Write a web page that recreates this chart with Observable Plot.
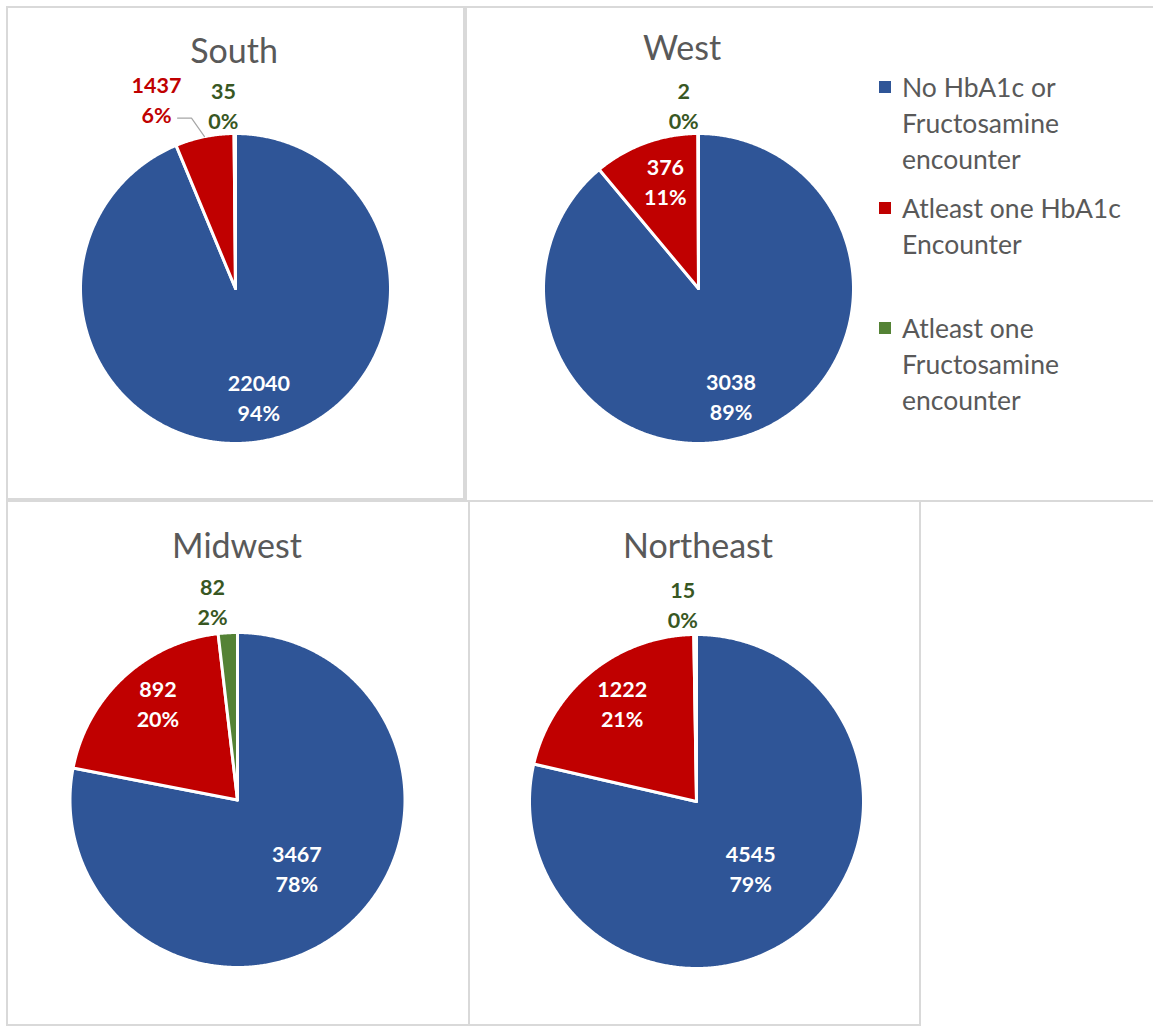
<!DOCTYPE html>
<html><head><meta charset="utf-8">
<script src="https://cdn.jsdelivr.net/npm/d3@7"></script>
<script src="https://cdn.jsdelivr.net/npm/@observablehq/plot@0.6"></script>
<style>
html,body{margin:0;padding:0;background:#fff;}
#page{position:relative;width:1153px;height:1027px;overflow:hidden;font-family:Lato,"Open Sans",sans-serif;}
.panel{position:absolute;border:2px solid #d9d9d9;box-sizing:border-box;}
.pie{position:absolute;}
.title{position:absolute;font-size:34px;line-height:34px;color:#595959;transform:translateX(-50%);white-space:nowrap;}
.legend{position:absolute;left:879px;top:69px;font-size:26.5px;line-height:36px;color:#595959;}
.legend .item{position:absolute;left:0;white-space:nowrap;}
.legend .sw{position:absolute;left:0;width:12px;height:12px;}
.legend .txt{position:absolute;left:23px;}
</style></head>
<body><div id="page"></div>
<script>
// ---- data ----
const regions = ["South", "West", "Midwest", "Northeast"];
const categories = ["No HbA1c or Fructosamine encounter", "Atleast one HbA1c Encounter", "Atleast one Fructosamine encounter"];
const legendLines = [["No HbA1c or", "Fructosamine", "encounter"], ["Atleast one HbA1c", "Encounter"], ["Atleast one", "Fructosamine", "encounter"]];
const southValues = [22040, 1437, 35];
const westValues = [3038, 376, 2];
const midwestValues = [3467, 892, 82];
const northeastValues = [4545, 1222, 15];
const valuesByRegion = {South: southValues, West: westValues, Midwest: midwestValues, Northeast: northeastValues};

// ---- styles / layout ----
const sliceColors = ["#2F5597", "#C00000", "#548235"];
const outsideLabelColors = ["#2F5597", "#C00000", "#385723"];
const layout = {
  South:     {panel: [6, 6, 459, 494],   center: [235, 288], R: 155, title: [234, 33]},
  West:      {panel: [465, 6, 720, 496], center: [698, 288], R: 155, title: [682, 30]},
  Midwest:   {panel: [6, 500, 464, 526], center: [237, 799.5], R: 167.5, title: [237, 528]},
  Northeast: {panel: [468, 500, 453, 526], center: [696, 801], R: 167, title: [698, 528]}
};
// label placement: radius (in pie radii) and angle shift (deg) from slice mid-angle
const labelPlacement = {
  South:     [{r: 0.71, da: -1}, {r: 1.33, da: -11, outside: true, leader: true}, {r: 1.19, da: -3.5, outside: true}],
  West:      [{r: 0.72, da: 3}, {r: 0.73, da: 3}, {r: 1.19, da: -4.5, outside: true}],
  Midwest:   [{r: 0.535, da: -2}, {r: 0.75, da: 3.5}, {r: 1.2, da: -3.8, outside: true}],
  Northeast: [{r: 0.51, da: -1}, {r: 0.74, da: 2}, {r: 1.19, da: -3.5, outside: true}]
};

const page = document.getElementById("page");
const rad = Math.PI / 180;

for (const region of regions) {
  const values = valuesByRegion[region];
  const L = layout[region];
  const [pl, pt, pw, ph] = L.panel;
  const [cx, cy] = L.center;
  const R = L.R;

  const panel = document.createElement("div");
  panel.className = "panel";
  Object.assign(panel.style, {left: pl + "px", top: pt + "px", width: pw + "px", height: ph + "px"});
  page.appendChild(panel);

  const title = document.createElement("div");
  title.className = "title";
  title.textContent = region;
  Object.assign(title.style, {left: L.title[0] + "px", top: L.title[1] + "px"});
  page.appendChild(title);

  const total = d3.sum(values);
  const arcs = d3.pie().sort(null).startAngle(0).endAngle(2 * Math.PI)(values);

  // wedge outlines computed from pie angles
  const wedgeRows = [];
  arcs.forEach((a, i) => {
    const n = Math.max(2, Math.ceil((a.endAngle - a.startAngle) / (0.4 * rad)));
    wedgeRows.push({key: i, cat: categories[i], x: 0, y: 0});
    for (let k = 0; k <= n; k++) {
      const t = a.startAngle + (a.endAngle - a.startAngle) * k / n;
      wedgeRows.push({key: i, cat: categories[i], x: Math.sin(t), y: Math.cos(t)});
    }
    wedgeRows.push({key: i, cat: categories[i], x: 0, y: 0});
  });

  const labels = arcs.map((a, i) => {
    const p = labelPlacement[region][i];
    const mid = (a.startAngle + a.endAngle) / 2;
    const ang = mid + p.da * rad;
    return {
      x: p.r * Math.sin(ang), y: p.r * Math.cos(ang),
      text: `${values[i]}\n${Math.round(values[i] / total * 100)}%`,
      color: p.outside ? outsideLabelColors[i] : "white",
      mid, leader: !!p.leader
    };
  });
  const leaderRows = [];
  labels.forEach((l, i) => {
    if (!l.leader) return;
    leaderRows.push({k: i, x: Math.sin(l.mid), y: Math.cos(l.mid)});
    leaderRows.push({k: i, x: l.x + 0.226, y: l.y - 0.129});
    leaderRows.push({k: i, x: l.x + 0.136, y: l.y - 0.129});
  });

  const chart = Plot.plot({
    width: pw, height: ph,
    margin: 0,
    style: {background: "transparent", overflow: "visible"},
    x: {domain: [(pl - cx) / R, (pl + pw - cx) / R], range: [0, pw], axis: null},
    y: {domain: [(cy - pt - ph) / R, (cy - pt) / R], range: [ph, 0], axis: null},
    color: {domain: categories, range: sliceColors},
    marks: [
      Plot.line(wedgeRows, {x: "x", y: "y", z: "key", fill: "cat", stroke: "white", strokeWidth: 3, strokeLinejoin: "round", curve: "linear"}),
      Plot.line(leaderRows, {x: "x", y: "y", z: "k", stroke: "#a6a6a6", strokeWidth: 1.2, strokeLinejoin: "miter"}),
      Plot.text(labels, {x: "x", y: "y", text: "text", fill: "color", fontSize: 21.5, fontWeight: "bold", fontFamily: "Lato, 'Open Sans', sans-serif", lineHeight: 1.4})
    ]
  });
  chart.classList.add("pie");
  Object.assign(chart.style, {left: pl + "px", top: pt + "px"});
  page.appendChild(chart);
}

// legend
const legend = document.createElement("div");
legend.className = "legend";
const itemTops = [0, 121, 241];
categories.forEach((c, i) => {
  const item = document.createElement("div");
  item.className = "item";
  item.style.top = itemTops[i] + "px";
  const sw = document.createElement("div");
  sw.className = "sw";
  sw.style.background = sliceColors[i];
  sw.style.top = "12px";
  const txt = document.createElement("div");
  txt.className = "txt";
  txt.innerHTML = legendLines[i].join("<br>");
  item.appendChild(sw);
  item.appendChild(txt);
  legend.appendChild(item);
});
page.appendChild(legend);
</script>
</body></html>
